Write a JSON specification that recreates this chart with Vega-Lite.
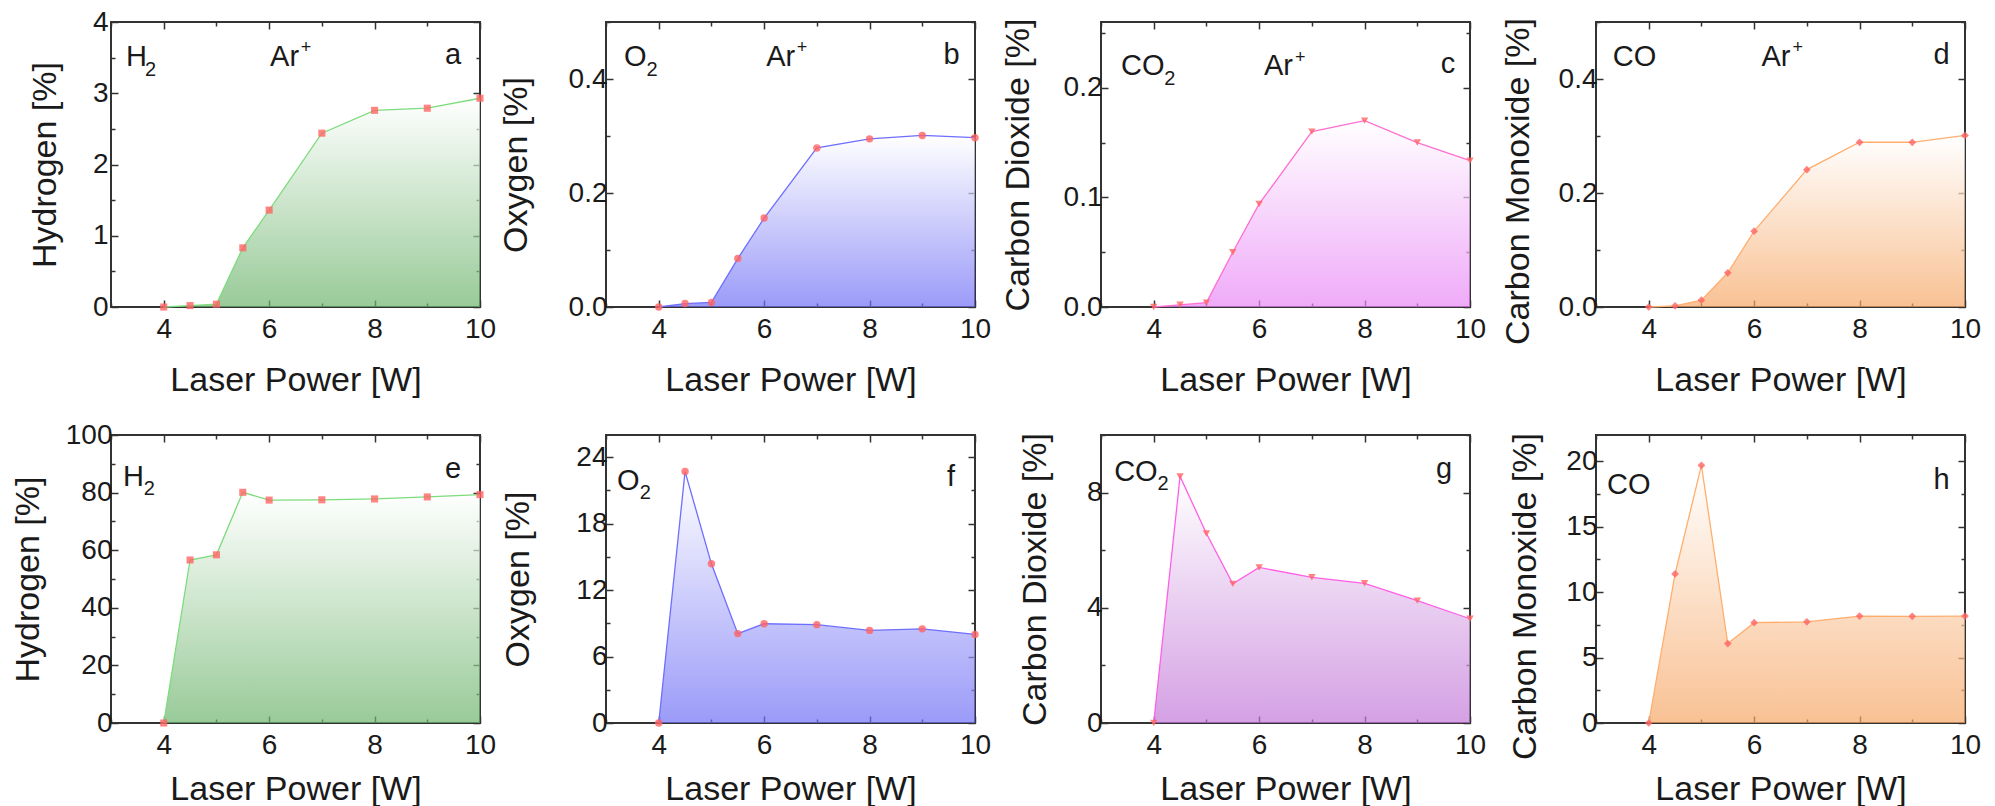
{
  "$schema": "https://vega.github.io/schema/vega-lite/v6.json",
  "background": "white",
  "padding": {"left": 9, "top": 7, "right": 0, "bottom": 0},
  "datasets": {
    "a": [{"power":4,"value":0},{"power":4.5,"value":0.02},{"power":5,"value":0.04},{"power":5.5,"value":0.83},{"power":6,"value":1.36},{"power":7,"value":2.44},{"power":8,"value":2.76},{"power":9,"value":2.79},{"power":10,"value":2.93}],
    "b": [{"power":4,"value":0},{"power":4.5,"value":0.006},{"power":5,"value":0.008},{"power":5.5,"value":0.085},{"power":6,"value":0.156},{"power":7,"value":0.279},{"power":8,"value":0.295},{"power":9,"value":0.301},{"power":10,"value":0.297}],
    "c": [{"power":4,"value":0},{"power":4.5,"value":0.002},{"power":5,"value":0.004},{"power":5.5,"value":0.05},{"power":6,"value":0.094},{"power":7,"value":0.16},{"power":8,"value":0.17},{"power":9,"value":0.15},{"power":10,"value":0.1335}],
    "d": [{"power":4,"value":0},{"power":4.5,"value":0.002},{"power":5,"value":0.012},{"power":5.5,"value":0.06},{"power":6,"value":0.133},{"power":7,"value":0.241},{"power":8,"value":0.289},{"power":9,"value":0.289},{"power":10,"value":0.301}],
    "e": [{"power":4,"value":0},{"power":4.5,"value":56.6},{"power":5,"value":58.4},{"power":5.5,"value":80.1},{"power":6,"value":77.4},{"power":7,"value":77.5},{"power":8,"value":77.8},{"power":9,"value":78.5},{"power":10,"value":79.3}],
    "f": [{"power":4,"value":0},{"power":4.5,"value":22.7},{"power":5,"value":14.37},{"power":5.5,"value":8.07},{"power":6,"value":8.96},{"power":7,"value":8.88},{"power":8,"value":8.36},{"power":9,"value":8.5},{"power":10,"value":8.0}],
    "g": [{"power":4,"value":0},{"power":4.5,"value":8.56},{"power":5,"value":6.58},{"power":5.5,"value":4.83},{"power":6,"value":5.4},{"power":7,"value":5.06},{"power":8,"value":4.85},{"power":9,"value":4.25},{"power":10,"value":3.62}],
    "h": [{"power":4,"value":0},{"power":4.5,"value":11.39},{"power":5,"value":19.68},{"power":5.5,"value":6.07},{"power":6,"value":7.66},{"power":7,"value":7.73},{"power":8,"value":8.17},{"power":9,"value":8.15},{"power":10,"value":8.17}]
  },
  "columns": 4,
  "spacing": {"row": 128, "column": 126},
  "bounds": "flush",
  "concat": [
    {
      "width": 369, "height": 285,
      "layer": [
        {"data": {"name": "a"}, "mark": {"type": "area", "color": {"gradient": "linear", "x1": 0, "y1": 0, "x2": 0, "y2": 1, "stops": [{"offset": 0, "color": "#ffffff"}, {"offset": 1, "color": "#6db46d"}]}, "line": {"color": "#7ddc7d", "strokeWidth": 1.3}},
         "encoding": {
           "x": {"field": "power", "type": "quantitative", "scale": {"domain": [3, 10]}, "axis": {"orient": "bottom", "title": "Laser Power [W]", "labelPadding": 15, "titlePadding": 17, "values": [3,4,5,6,7,8,9,10], "labelExpr": "datum.value % 2 == 0 ? format(datum.value, '.0f') : ''", "tickSize": {"condition": {"test": "datum.value % 2 == 1", "value": -4}, "value": -7}}},
           "y": {"field": "value", "type": "quantitative", "scale": {"domain": [0, 4]}, "axis": {"orient": "left", "title": "Hydrogen [%]", "titleX": -56, "labelPadding": 10, "values": [0,0.5,1,1.5,2,2.5,3,3.5,4], "labelExpr": "datum.value % 1 == 0 ? format(datum.value, '.0f') : ''", "tickSize": {"condition": {"test": "datum.value % 1 != 0", "value": -4}, "value": -7}}}
         }},
        {"data": {"name": "a"}, "mark": {"type": "point", "shape": "square", "filled": true, "color": "#ff6464", "opacity": 0.8, "size": 50},
         "encoding": {
           "x": {"field": "power", "type": "quantitative", "axis": {"orient": "top", "title": null, "labels": false, "values": [3,4,5,6,7,8,9,10], "tickSize": {"condition": {"test": "datum.value % 2 == 1", "value": -4}, "value": -7}}},
           "y": {"field": "value", "type": "quantitative", "axis": {"orient": "right", "title": null, "labels": false, "values": [0,0.5,1,1.5,2,2.5,3,3.5,4], "tickSize": {"condition": {"test": "datum.value % 1 != 0", "value": -4}, "value": -7}}}
         }},
        {"data": {"values": [{}]}, "mark": {"type": "text", "align": "left", "baseline": "alphabetic", "fontSize": 29, "color": "#1a1a1a"}, "encoding": {"x": {"datum": 3.285, "type": "quantitative", "axis": null}, "y": {"datum": 3.38, "type": "quantitative", "axis": null}, "text": {"value": "H"}}},
        {"data": {"values": [{}]}, "mark": {"type": "text", "align": "left", "baseline": "alphabetic", "fontSize": 20, "color": "#1a1a1a"}, "encoding": {"x": {"datum": 3.645, "type": "quantitative", "axis": null}, "y": {"datum": 3.24, "type": "quantitative", "axis": null}, "text": {"value": "2"}}},
        {"data": {"values": [{}]}, "mark": {"type": "text", "align": "left", "baseline": "alphabetic", "fontSize": 29, "color": "#1a1a1a"}, "encoding": {"x": {"datum": 6.017, "type": "quantitative", "axis": null}, "y": {"datum": 3.38, "type": "quantitative", "axis": null}, "text": {"value": "Ar"}}},
        {"data": {"values": [{}]}, "mark": {"type": "text", "align": "left", "baseline": "alphabetic", "fontSize": 18, "color": "#1a1a1a"}, "encoding": {"x": {"datum": 6.6, "type": "quantitative", "axis": null}, "y": {"datum": 3.565, "type": "quantitative", "axis": null}, "text": {"value": "+"}}},
        {"data": {"values": [{}]}, "mark": {"type": "text", "align": "right", "baseline": "alphabetic", "fontSize": 29, "color": "#1a1a1a"}, "encoding": {"x": {"datum": 9.64, "type": "quantitative", "axis": null}, "y": {"datum": 3.41, "type": "quantitative", "axis": null}, "text": {"value": "a"}}}
      ],
      "resolve": {"axis": {"x": "independent", "y": "independent"}}
    },
    {
      "width": 369, "height": 285,
      "layer": [
        {"data": {"name": "b"}, "mark": {"type": "area", "color": {"gradient": "linear", "x1": 0, "y1": 0, "x2": 0, "y2": 1, "stops": [{"offset": 0, "color": "#ffffff"}, {"offset": 1, "color": "#7070f6"}]}, "line": {"color": "#6e6eff", "strokeWidth": 1.3}},
         "encoding": {
           "x": {"field": "power", "type": "quantitative", "scale": {"domain": [3, 10]}, "axis": {"orient": "bottom", "title": "Laser Power [W]", "labelPadding": 15, "titlePadding": 17, "values": [3,4,5,6,7,8,9,10], "labelExpr": "datum.value % 2 == 0 ? format(datum.value, '.0f') : ''", "tickSize": {"condition": {"test": "datum.value % 2 == 1", "value": -4}, "value": -7}}},
           "y": {"field": "value", "type": "quantitative", "scale": {"domain": [0, 0.5]}, "axis": {"orient": "left", "title": "Oxygen [%]", "titleX": -80, "values": [0,0.1,0.2,0.3,0.4,0.5], "labelExpr": "round(datum.value*10) % 2 == 0 ? format(datum.value, '.1f') : ''", "tickSize": {"condition": {"test": "round(datum.value*10) % 2 == 1", "value": -4}, "value": -7}}}
         }},
        {"data": {"name": "b"}, "mark": {"type": "point", "shape": "circle", "filled": true, "color": "#ff6464", "opacity": 0.8, "size": 55},
         "encoding": {
           "x": {"field": "power", "type": "quantitative", "axis": {"orient": "top", "title": null, "labels": false, "values": [3,4,5,6,7,8,9,10], "tickSize": {"condition": {"test": "datum.value % 2 == 1", "value": -4}, "value": -7}}},
           "y": {"field": "value", "type": "quantitative", "axis": {"orient": "right", "title": null, "labels": false, "values": [0,0.1,0.2,0.3,0.4,0.5], "tickSize": {"condition": {"test": "round(datum.value*10) % 2 == 1", "value": -4}, "value": -7}}}
         }},
        {"data": {"values": [{}]}, "mark": {"type": "text", "align": "left", "baseline": "alphabetic", "fontSize": 29, "color": "#1a1a1a"}, "encoding": {"x": {"datum": 3.34, "type": "quantitative", "axis": null}, "y": {"datum": 0.4228, "type": "quantitative", "axis": null}, "text": {"value": "O"}}},
        {"data": {"values": [{}]}, "mark": {"type": "text", "align": "left", "baseline": "alphabetic", "fontSize": 20, "color": "#1a1a1a"}, "encoding": {"x": {"datum": 3.77, "type": "quantitative", "axis": null}, "y": {"datum": 0.405, "type": "quantitative", "axis": null}, "text": {"value": "2"}}},
        {"data": {"values": [{}]}, "mark": {"type": "text", "align": "left", "baseline": "alphabetic", "fontSize": 29, "color": "#1a1a1a"}, "encoding": {"x": {"datum": 6.04, "type": "quantitative", "axis": null}, "y": {"datum": 0.4228, "type": "quantitative", "axis": null}, "text": {"value": "Ar"}}},
        {"data": {"values": [{}]}, "mark": {"type": "text", "align": "left", "baseline": "alphabetic", "fontSize": 18, "color": "#1a1a1a"}, "encoding": {"x": {"datum": 6.62, "type": "quantitative", "axis": null}, "y": {"datum": 0.4456, "type": "quantitative", "axis": null}, "text": {"value": "+"}}},
        {"data": {"values": [{}]}, "mark": {"type": "text", "align": "right", "baseline": "alphabetic", "fontSize": 29, "color": "#1a1a1a"}, "encoding": {"x": {"datum": 9.71, "type": "quantitative", "axis": null}, "y": {"datum": 0.4263, "type": "quantitative", "axis": null}, "text": {"value": "b"}}}
      ],
      "resolve": {"axis": {"x": "independent", "y": "independent"}}
    },
    {
      "width": 369, "height": 285,
      "layer": [
        {"data": {"name": "c"}, "mark": {"type": "area", "color": {"gradient": "linear", "x1": 0, "y1": 0, "x2": 0, "y2": 1, "stops": [{"offset": 0, "color": "#ffffff"}, {"offset": 1, "color": "#e886f6"}]}, "line": {"color": "#ff6fd2", "strokeWidth": 1.3}},
         "encoding": {
           "x": {"field": "power", "type": "quantitative", "scale": {"domain": [3, 10]}, "axis": {"orient": "bottom", "title": "Laser Power [W]", "labelPadding": 15, "titlePadding": 17, "values": [3,4,5,6,7,8,9,10], "labelExpr": "datum.value % 2 == 0 ? format(datum.value, '.0f') : ''", "tickSize": {"condition": {"test": "datum.value % 2 == 1", "value": -4}, "value": -7}}},
           "y": {"field": "value", "type": "quantitative", "scale": {"domain": [0, 0.25]}, "axis": {"orient": "left", "title": "Carbon Dioxide [%]", "titleX": -73, "values": [0,0.05,0.1,0.15,0.2,0.25], "labelExpr": "round(datum.value*20) % 2 == 0 ? format(datum.value, '.1f') : ''", "tickSize": {"condition": {"test": "round(datum.value*20) % 2 == 1", "value": -4}, "value": -7}}}
         }},
        {"data": {"name": "c"}, "mark": {"type": "point", "shape": "triangle-down", "filled": true, "color": "#ff6464", "opacity": 0.8, "size": 55},
         "encoding": {
           "x": {"field": "power", "type": "quantitative", "axis": {"orient": "top", "title": null, "labels": false, "values": [3,4,5,6,7,8,9,10], "tickSize": {"condition": {"test": "datum.value % 2 == 1", "value": -4}, "value": -7}}},
           "y": {"field": "value", "type": "quantitative", "axis": {"orient": "right", "title": null, "labels": false, "values": [0,0.05,0.1,0.15,0.2,0.25], "tickSize": {"condition": {"test": "round(datum.value*20) % 2 == 1", "value": -4}, "value": -7}}}
         }},
        {"data": {"values": [{}]}, "mark": {"type": "text", "align": "left", "baseline": "alphabetic", "fontSize": 29, "color": "#1a1a1a"}, "encoding": {"x": {"datum": 3.38, "type": "quantitative", "axis": null}, "y": {"datum": 0.2114, "type": "quantitative", "axis": null}, "text": {"value": "CO"}}},
        {"data": {"values": [{}]}, "mark": {"type": "text", "align": "left", "baseline": "alphabetic", "fontSize": 20, "color": "#1a1a1a"}, "encoding": {"x": {"datum": 4.2, "type": "quantitative", "axis": null}, "y": {"datum": 0.2026, "type": "quantitative", "axis": null}, "text": {"value": "2"}}},
        {"data": {"values": [{}]}, "mark": {"type": "text", "align": "left", "baseline": "alphabetic", "fontSize": 29, "color": "#1a1a1a"}, "encoding": {"x": {"datum": 6.09, "type": "quantitative", "axis": null}, "y": {"datum": 0.2114, "type": "quantitative", "axis": null}, "text": {"value": "Ar"}}},
        {"data": {"values": [{}]}, "mark": {"type": "text", "align": "left", "baseline": "alphabetic", "fontSize": 18, "color": "#1a1a1a"}, "encoding": {"x": {"datum": 6.68, "type": "quantitative", "axis": null}, "y": {"datum": 0.2228, "type": "quantitative", "axis": null}, "text": {"value": "+"}}},
        {"data": {"values": [{}]}, "mark": {"type": "text", "align": "right", "baseline": "alphabetic", "fontSize": 29, "color": "#1a1a1a"}, "encoding": {"x": {"datum": 9.72, "type": "quantitative", "axis": null}, "y": {"datum": 0.2132, "type": "quantitative", "axis": null}, "text": {"value": "c"}}}
      ],
      "resolve": {"axis": {"x": "independent", "y": "independent"}}
    },
    {
      "width": 369, "height": 285,
      "layer": [
        {"data": {"name": "d"}, "mark": {"type": "area", "color": {"gradient": "linear", "x1": 0, "y1": 0, "x2": 0, "y2": 1, "stops": [{"offset": 0, "color": "#ffffff"}, {"offset": 1, "color": "#f6a766"}]}, "line": {"color": "#ffae6e", "strokeWidth": 1.3}},
         "encoding": {
           "x": {"field": "power", "type": "quantitative", "scale": {"domain": [3, 10]}, "axis": {"orient": "bottom", "title": "Laser Power [W]", "labelPadding": 15, "titlePadding": 17, "values": [3,4,5,6,7,8,9,10], "labelExpr": "datum.value % 2 == 0 ? format(datum.value, '.0f') : ''", "tickSize": {"condition": {"test": "datum.value % 2 == 1", "value": -4}, "value": -7}}},
           "y": {"field": "value", "type": "quantitative", "scale": {"domain": [0, 0.5]}, "axis": {"orient": "left", "title": "Carbon Monoxide [%]", "titleX": -68, "titleY": 159, "values": [0,0.1,0.2,0.3,0.4,0.5], "labelExpr": "round(datum.value*10) % 2 == 0 ? format(datum.value, '.1f') : ''", "tickSize": {"condition": {"test": "round(datum.value*10) % 2 == 1", "value": -4}, "value": -7}}}
         }},
        {"data": {"name": "d"}, "mark": {"type": "point", "shape": "diamond", "filled": true, "color": "#ff6464", "opacity": 0.8, "size": 60},
         "encoding": {
           "x": {"field": "power", "type": "quantitative", "axis": {"orient": "top", "title": null, "labels": false, "values": [3,4,5,6,7,8,9,10], "tickSize": {"condition": {"test": "datum.value % 2 == 1", "value": -4}, "value": -7}}},
           "y": {"field": "value", "type": "quantitative", "axis": {"orient": "right", "title": null, "labels": false, "values": [0,0.1,0.2,0.3,0.4,0.5], "tickSize": {"condition": {"test": "round(datum.value*10) % 2 == 1", "value": -4}, "value": -7}}}
         }},
        {"data": {"values": [{}]}, "mark": {"type": "text", "align": "left", "baseline": "alphabetic", "fontSize": 29, "color": "#1a1a1a"}, "encoding": {"x": {"datum": 3.32, "type": "quantitative", "axis": null}, "y": {"datum": 0.4228, "type": "quantitative", "axis": null}, "text": {"value": "CO"}}},
        {"data": {"values": [{}]}, "mark": {"type": "text", "align": "left", "baseline": "alphabetic", "fontSize": 29, "color": "#1a1a1a"}, "encoding": {"x": {"datum": 6.14, "type": "quantitative", "axis": null}, "y": {"datum": 0.4228, "type": "quantitative", "axis": null}, "text": {"value": "Ar"}}},
        {"data": {"values": [{}]}, "mark": {"type": "text", "align": "left", "baseline": "alphabetic", "fontSize": 18, "color": "#1a1a1a"}, "encoding": {"x": {"datum": 6.73, "type": "quantitative", "axis": null}, "y": {"datum": 0.4456, "type": "quantitative", "axis": null}, "text": {"value": "+"}}},
        {"data": {"values": [{}]}, "mark": {"type": "text", "align": "right", "baseline": "alphabetic", "fontSize": 29, "color": "#1a1a1a"}, "encoding": {"x": {"datum": 9.71, "type": "quantitative", "axis": null}, "y": {"datum": 0.4263, "type": "quantitative", "axis": null}, "text": {"value": "d"}}}
      ],
      "resolve": {"axis": {"x": "independent", "y": "independent"}}
    },
    {
      "width": 369, "height": 288,
      "layer": [
        {"data": {"name": "e"}, "mark": {"type": "area", "color": {"gradient": "linear", "x1": 0, "y1": 0, "x2": 0, "y2": 1, "stops": [{"offset": 0, "color": "#ffffff"}, {"offset": 1, "color": "#6db46d"}]}, "line": {"color": "#7ddc7d", "strokeWidth": 1.3}},
         "encoding": {
           "x": {"field": "power", "type": "quantitative", "scale": {"domain": [3, 10]}, "axis": {"orient": "bottom", "title": "Laser Power [W]", "labelPadding": 15, "titlePadding": 10, "values": [3,4,5,6,7,8,9,10], "labelExpr": "datum.value % 2 == 0 ? format(datum.value, '.0f') : ''", "tickSize": {"condition": {"test": "datum.value % 2 == 1", "value": -4}, "value": -7}}},
           "y": {"field": "value", "type": "quantitative", "scale": {"domain": [0, 100]}, "axis": {"orient": "left", "title": "Hydrogen [%]", "titleX": -73, "values": [0,10,20,30,40,50,60,70,80,90,100], "labelExpr": "datum.value % 20 == 0 ? format(datum.value, '.0f') : ''", "tickSize": {"condition": {"test": "datum.value % 20 != 0", "value": -4}, "value": -7}}}
         }},
        {"data": {"name": "e"}, "mark": {"type": "point", "shape": "square", "filled": true, "color": "#ff6464", "opacity": 0.8, "size": 50},
         "encoding": {
           "x": {"field": "power", "type": "quantitative", "axis": {"orient": "top", "title": null, "labels": false, "values": [3,4,5,6,7,8,9,10], "tickSize": {"condition": {"test": "datum.value % 2 == 1", "value": -4}, "value": -7}}},
           "y": {"field": "value", "type": "quantitative", "axis": {"orient": "right", "title": null, "labels": false, "values": [0,10,20,30,40,50,60,70,80,90,100], "tickSize": {"condition": {"test": "datum.value % 20 != 0", "value": -4}, "value": -7}}}
         }},
        {"data": {"values": [{}]}, "mark": {"type": "text", "align": "left", "baseline": "alphabetic", "fontSize": 29, "color": "#1a1a1a"}, "encoding": {"x": {"datum": 3.23, "type": "quantitative", "axis": null}, "y": {"datum": 82.3, "type": "quantitative", "axis": null}, "text": {"value": "H"}}},
        {"data": {"values": [{}]}, "mark": {"type": "text", "align": "left", "baseline": "alphabetic", "fontSize": 20, "color": "#1a1a1a"}, "encoding": {"x": {"datum": 3.62, "type": "quantitative", "axis": null}, "y": {"datum": 79.2, "type": "quantitative", "axis": null}, "text": {"value": "2"}}},
        {"data": {"values": [{}]}, "mark": {"type": "text", "align": "right", "baseline": "alphabetic", "fontSize": 29, "color": "#1a1a1a"}, "encoding": {"x": {"datum": 9.64, "type": "quantitative", "axis": null}, "y": {"datum": 85.1, "type": "quantitative", "axis": null}, "text": {"value": "e"}}}
      ],
      "resolve": {"axis": {"x": "independent", "y": "independent"}}
    },
    {
      "width": 369, "height": 288,
      "layer": [
        {"data": {"name": "f"}, "mark": {"type": "area", "color": {"gradient": "linear", "x1": 0, "y1": 0, "x2": 0, "y2": 1, "stops": [{"offset": 0, "color": "#ffffff"}, {"offset": 1, "color": "#7070f6"}]}, "line": {"color": "#6e6eff", "strokeWidth": 1.3}},
         "encoding": {
           "x": {"field": "power", "type": "quantitative", "scale": {"domain": [3, 10]}, "axis": {"orient": "bottom", "title": "Laser Power [W]", "labelPadding": 15, "titlePadding": 10, "values": [3,4,5,6,7,8,9,10], "labelExpr": "datum.value % 2 == 0 ? format(datum.value, '.0f') : ''", "tickSize": {"condition": {"test": "datum.value % 2 == 1", "value": -4}, "value": -7}}},
           "y": {"field": "value", "type": "quantitative", "scale": {"domain": [0, 25]}, "axis": {"orient": "left", "title": "Oxygen [%]", "titleX": -78, "values": [0,3,6,9,12,15,18,21,24], "labelExpr": "datum.value % 6 == 0 ? format(datum.value, '.0f') : ''", "tickSize": {"condition": {"test": "datum.value % 6 != 0", "value": -4}, "value": -7}}}
         }},
        {"data": {"name": "f"}, "mark": {"type": "point", "shape": "circle", "filled": true, "color": "#ff6464", "opacity": 0.8, "size": 55},
         "encoding": {
           "x": {"field": "power", "type": "quantitative", "axis": {"orient": "top", "title": null, "labels": false, "values": [3,4,5,6,7,8,9,10], "tickSize": {"condition": {"test": "datum.value % 2 == 1", "value": -4}, "value": -7}}},
           "y": {"field": "value", "type": "quantitative", "axis": {"orient": "right", "title": null, "labels": false, "values": [0,3,6,9,12,15,18,21,24], "tickSize": {"condition": {"test": "datum.value % 6 != 0", "value": -4}, "value": -7}}}
         }},
        {"data": {"values": [{}]}, "mark": {"type": "text", "align": "left", "baseline": "alphabetic", "fontSize": 29, "color": "#1a1a1a"}, "encoding": {"x": {"datum": 3.21, "type": "quantitative", "axis": null}, "y": {"datum": 21.0, "type": "quantitative", "axis": null}, "text": {"value": "O"}}},
        {"data": {"values": [{}]}, "mark": {"type": "text", "align": "left", "baseline": "alphabetic", "fontSize": 20, "color": "#1a1a1a"}, "encoding": {"x": {"datum": 3.64, "type": "quantitative", "axis": null}, "y": {"datum": 20.2, "type": "quantitative", "axis": null}, "text": {"value": "2"}}},
        {"data": {"values": [{}]}, "mark": {"type": "text", "align": "right", "baseline": "alphabetic", "fontSize": 29, "color": "#1a1a1a"}, "encoding": {"x": {"datum": 9.62, "type": "quantitative", "axis": null}, "y": {"datum": 21.44, "type": "quantitative", "axis": null}, "text": {"value": "f"}}}
      ],
      "resolve": {"axis": {"x": "independent", "y": "independent"}}
    },
    {
      "width": 369, "height": 288,
      "layer": [
        {"data": {"name": "g"}, "mark": {"type": "area", "color": {"gradient": "linear", "x1": 0, "y1": 0, "x2": 0, "y2": 1, "stops": [{"offset": 0, "color": "#ffffff"}, {"offset": 1, "color": "#c278d8"}]}, "line": {"color": "#ff5fe6", "strokeWidth": 1.3}},
         "encoding": {
           "x": {"field": "power", "type": "quantitative", "scale": {"domain": [3, 10]}, "axis": {"orient": "bottom", "title": "Laser Power [W]", "labelPadding": 15, "titlePadding": 10, "values": [3,4,5,6,7,8,9,10], "labelExpr": "datum.value % 2 == 0 ? format(datum.value, '.0f') : ''", "tickSize": {"condition": {"test": "datum.value % 2 == 1", "value": -4}, "value": -7}}},
           "y": {"field": "value", "type": "quantitative", "scale": {"domain": [0, 10]}, "axis": {"orient": "left", "title": "Carbon Dioxide [%]", "titleX": -56, "values": [0,2,4,6,8,10], "labelExpr": "datum.value % 4 == 0 ? format(datum.value, '.0f') : ''", "tickSize": {"condition": {"test": "datum.value % 4 != 0", "value": -4}, "value": -7}}}
         }},
        {"data": {"name": "g"}, "mark": {"type": "point", "shape": "triangle-down", "filled": true, "color": "#ff6464", "opacity": 0.8, "size": 55},
         "encoding": {
           "x": {"field": "power", "type": "quantitative", "axis": {"orient": "top", "title": null, "labels": false, "values": [3,4,5,6,7,8,9,10], "tickSize": {"condition": {"test": "datum.value % 2 == 1", "value": -4}, "value": -7}}},
           "y": {"field": "value", "type": "quantitative", "axis": {"orient": "right", "title": null, "labels": false, "values": [0,2,4,6,8,10], "tickSize": {"condition": {"test": "datum.value % 4 != 0", "value": -4}, "value": -7}}}
         }},
        {"data": {"values": [{}]}, "mark": {"type": "text", "align": "left", "baseline": "alphabetic", "fontSize": 29, "color": "#1a1a1a"}, "encoding": {"x": {"datum": 3.25, "type": "quantitative", "axis": null}, "y": {"datum": 8.4, "type": "quantitative", "axis": null}, "text": {"value": "CO"}}},
        {"data": {"values": [{}]}, "mark": {"type": "text", "align": "left", "baseline": "alphabetic", "fontSize": 20, "color": "#1a1a1a"}, "encoding": {"x": {"datum": 4.07, "type": "quantitative", "axis": null}, "y": {"datum": 8.09, "type": "quantitative", "axis": null}, "text": {"value": "2"}}},
        {"data": {"values": [{}]}, "mark": {"type": "text", "align": "right", "baseline": "alphabetic", "fontSize": 29, "color": "#1a1a1a"}, "encoding": {"x": {"datum": 9.66, "type": "quantitative", "axis": null}, "y": {"datum": 8.51, "type": "quantitative", "axis": null}, "text": {"value": "g"}}}
      ],
      "resolve": {"axis": {"x": "independent", "y": "independent"}}
    },
    {
      "width": 369, "height": 288,
      "layer": [
        {"data": {"name": "h"}, "mark": {"type": "area", "color": {"gradient": "linear", "x1": 0, "y1": 0, "x2": 0, "y2": 1, "stops": [{"offset": 0, "color": "#ffffff"}, {"offset": 1, "color": "#f6a766"}]}, "line": {"color": "#ffae6e", "strokeWidth": 1.3}},
         "encoding": {
           "x": {"field": "power", "type": "quantitative", "scale": {"domain": [3, 10]}, "axis": {"orient": "bottom", "title": "Laser Power [W]", "labelPadding": 15, "titlePadding": 10, "values": [3,4,5,6,7,8,9,10], "labelExpr": "datum.value % 2 == 0 ? format(datum.value, '.0f') : ''", "tickSize": {"condition": {"test": "datum.value % 2 == 1", "value": -4}, "value": -7}}},
           "y": {"field": "value", "type": "quantitative", "scale": {"domain": [0, 21]}, "axis": {"orient": "left", "title": "Carbon Monoxide [%]", "titleX": -61, "titleY": 161, "values": [0,2.5,5,7.5,10,12.5,15,17.5,20], "labelExpr": "datum.value % 5 == 0 ? format(datum.value, '.0f') : ''", "tickSize": {"condition": {"test": "datum.value % 5 != 0", "value": -4}, "value": -7}}}
         }},
        {"data": {"name": "h"}, "mark": {"type": "point", "shape": "diamond", "filled": true, "color": "#ff6464", "opacity": 0.8, "size": 60},
         "encoding": {
           "x": {"field": "power", "type": "quantitative", "axis": {"orient": "top", "title": null, "labels": false, "values": [3,4,5,6,7,8,9,10], "tickSize": {"condition": {"test": "datum.value % 2 == 1", "value": -4}, "value": -7}}},
           "y": {"field": "value", "type": "quantitative", "axis": {"orient": "right", "title": null, "labels": false, "values": [0,2.5,5,7.5,10,12.5,15,17.5,20], "tickSize": {"condition": {"test": "datum.value % 5 != 0", "value": -4}, "value": -7}}}
         }},
        {"data": {"values": [{}]}, "mark": {"type": "text", "align": "left", "baseline": "alphabetic", "fontSize": 29, "color": "#1a1a1a"}, "encoding": {"x": {"datum": 3.21, "type": "quantitative", "axis": null}, "y": {"datum": 17.5, "type": "quantitative", "axis": null}, "text": {"value": "CO"}}},
        {"data": {"values": [{}]}, "mark": {"type": "text", "align": "right", "baseline": "alphabetic", "fontSize": 29, "color": "#1a1a1a"}, "encoding": {"x": {"datum": 9.71, "type": "quantitative", "axis": null}, "y": {"datum": 17.87, "type": "quantitative", "axis": null}, "text": {"value": "h"}}}
      ],
      "resolve": {"axis": {"x": "independent", "y": "independent"}}
    }
  ],
  "config": {
    "font": "Liberation Sans",
    "view": {"stroke": "#333333", "strokeWidth": 2},
    "axis": {"grid": false, "domain": false, "labelFont": "Liberation Sans", "titleFont": "Liberation Sans", "labelFontSize": 28, "titleFontSize": 34, "titleFontWeight": "normal", "labelColor": "#1a1a1a", "titleColor": "#1a1a1a", "tickColor": "#333333", "tickWidth": 1.5, "labelPadding": 6, "titlePadding": 20, "labelFlush": false, "labelOverlap": false},
    "axisX": {"titleBaseline": "top"},
    "axisY": {"titleBaseline": "alphabetic"}
  }
}
